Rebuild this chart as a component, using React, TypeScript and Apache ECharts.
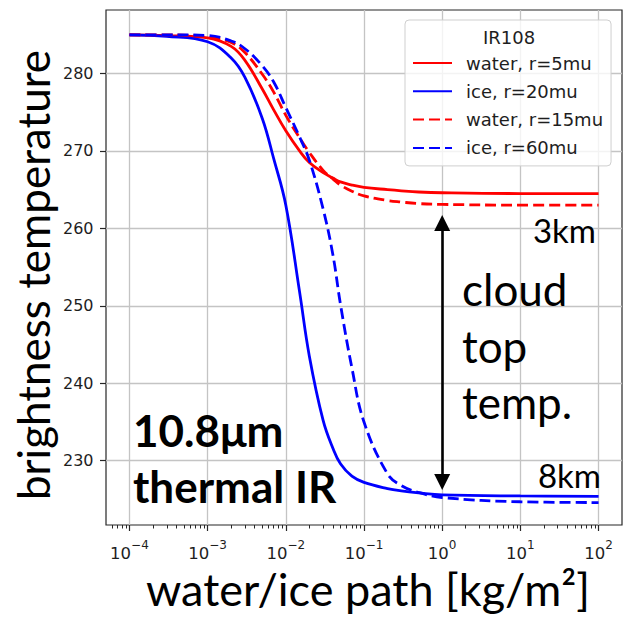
import React, { useEffect, useRef } from 'react';
import * as echarts from 'echarts';

// water / ice path [kg/m²] at which the brightness temperatures are sampled
const paths = [1e-4, 3e-4, 1e-3, 2e-3, 3e-3, 5e-3, 7e-3, 1e-2, 1.5e-2, 2e-2, 3e-2, 4e-2, 5e-2, 7e-2, 0.1, 0.2, 0.3, 0.5, 1, 10, 100];

// IR108 brightness temperature [K]
const water5 = [285.0, 284.9, 284.6, 283.5, 281.7, 278.0, 275.3, 272.6, 270.0, 268.5, 267.2, 266.5, 266.0, 265.6, 265.3, 265.0, 264.85, 264.7, 264.6, 264.5, 264.5];
const ice20 = [285.0, 284.8, 284.1, 282.0, 279.5, 274.2, 269.0, 263.0, 251.8, 243.5, 235.2, 231.6, 229.6, 228.0, 227.2, 226.4, 226.1, 225.85, 225.6, 225.45, 225.4];
const water15 = [285.0, 285.0, 284.7, 284.0, 282.7, 279.9, 277.6, 274.6, 271.7, 269.8, 267.5, 266.4, 265.6, 264.8, 264.2, 263.6, 263.4, 263.2, 263.1, 263.0, 263.0];
const ice60 = [285.0, 285.0, 284.9, 284.2, 283.2, 281.0, 278.9, 275.6, 271.8, 268.8, 262.5, 256.6, 250.2, 242.0, 235.0, 228.3, 226.8, 225.9, 225.25, 224.7, 224.6];

const seriesNames = ['water, r=5mu', 'ice, r=20mu', 'water, r=15mu', 'ice, r=60mu'];

// axis ticks
const xMajorTicks = [1e-4, 1e-3, 1e-2, 1e-1, 1, 10, 100];
const yTicks = [230, 240, 250, 260, 270, 280];

// cloud-top temperature arrow at 1 kg/m², between the 3 km and 8 km plateaus
const arrowPath = 1;
const arrowTop = 260.7;
const arrowBottom = 227.25;

const X_MIN = Math.pow(10, -4.3);
const X_MAX = Math.pow(10, 2.3);

// minor log ticks at 2..9 × 10^n inside the axis range
function minorTicks(): number[] {
  const out: number[] = [];
  for (let e = -5; e <= 2; e++) {
    for (let k = 2; k <= 9; k++) {
      const v = k * Math.pow(10, e);
      if (v > X_MIN && v < X_MAX) out.push(v);
    }
  }
  return out;
}

const TICK_FONT = 'DejaVu Sans';
const TITLE_FONT = 'Lato';
const INK = '#1e1e1e';
const LINE_W = 2.8;

export default function App() {
  const ref = useRef<HTMLDivElement>(null);

  useEffect(() => {
    if (!ref.current) return;
    const chart = echarts.init(ref.current, null, { renderer: 'svg' });

    const toPairs = (ys: number[]) => paths.map((p, i) => [p, ys[i]]);
    const lineSeries = (name: string, ys: number[], color: string, dashed: boolean) => ({
      name,
      type: 'line',
      data: toPairs(ys),
      symbol: 'none',
      smooth: 0.4,
      lineStyle: { color, width: LINE_W, type: dashed ? [11, 5] : 'solid' },
      itemStyle: { color },
      z: 3,
    });

    const s0: any = lineSeries(seriesNames[0], water5, '#ff0000', false);
    s0.markLine = {
      silent: true,
      symbol: ['triangle', 'triangle'],
      symbolSize: [16, 16],
      label: { show: false },
      lineStyle: { color: '#000000', width: 2.6, type: 'solid' },
      itemStyle: { color: '#000000' },
      emphasis: { disabled: true },
      data: [[{ coord: [arrowPath, arrowTop] }, { coord: [arrowPath, arrowBottom] }]],
    };

    const option: any = {
      animation: false,
      grid: {
        left: 106,
        top: 10,
        width: 516,
        height: 515,
        show: true,
        borderColor: '#262626',
        borderWidth: 1.2,
        backgroundColor: 'transparent',
      },
      xAxis: [
        {
          type: 'log',
          logBase: 10,
          min: X_MIN,
          max: X_MAX,
          axisLine: { show: false },
          axisTick: {
            show: true,
            length: 6,
            customValues: xMajorTicks,
            lineStyle: { color: '#262626', width: 1.2 },
          },
          axisLabel: {
            customValues: xMajorTicks,
            margin: 14,
            formatter: (v: number) => {
              const e = Math.round(Math.log10(v));
              const exp = e < 0 ? '\u2212' + -e : String(e);
              return '{b|10}{s|' + exp + '}';
            },
            rich: {
              b: { fontFamily: TICK_FONT, fontSize: 16.5, color: INK, lineHeight: 23, verticalAlign: 'bottom' },
              s: { fontFamily: TICK_FONT, fontSize: 12, color: INK, lineHeight: 11, verticalAlign: 'top' },
            },
          },
          splitLine: { show: true, lineStyle: { color: '#c4c4c4', width: 1.3 } },
        },
        {
          type: 'log',
          logBase: 10,
          min: X_MIN,
          max: X_MAX,
          position: 'bottom',
          axisLine: { show: false },
          axisLabel: { show: false },
          splitLine: { show: false },
          axisTick: {
            show: true,
            length: 3.5,
            customValues: minorTicks(),
            lineStyle: { color: '#262626', width: 1 },
          },
        },
      ],
      yAxis: {
        type: 'value',
        min: 221.7,
        max: 288.2,
        axisLine: { show: false },
        axisTick: {
          show: true,
          length: 6,
          customValues: yTicks,
          lineStyle: { color: '#262626', width: 1.2 },
        },
        axisLabel: {
          customValues: yTicks,
          margin: 12.5,
          fontFamily: TICK_FONT,
          fontSize: 16,
          color: INK,
        },
        splitLine: { show: true, lineStyle: { color: '#c4c4c4', width: 1.3 } },
      },
      legend: {
        data: seriesNames,
        orient: 'vertical',
        left: 405,
        top: 20,
        padding: [34, 8, 9, 7],
        itemGap: 10.3,
        itemWidth: 39,
        itemHeight: 14,
        backgroundColor: 'rgba(255,255,255,0.8)',
        borderColor: '#cfcfcf',
        borderWidth: 1,
        borderRadius: 4,
        selectedMode: false,
        itemStyle: { color: 'rgba(0,0,0,0)', borderWidth: 0, opacity: 0 },
        textStyle: {
          fontFamily: TICK_FONT,
          fontSize: 18,
          lineHeight: 18,
          color: INK,
          padding: [0, 0, 0, 9],
        },
      },
      series: [
        s0,
        lineSeries(seriesNames[1], ice20, '#0000ff', false),
        lineSeries(seriesNames[2], water15, '#ff0000', true),
        lineSeries(seriesNames[3], ice60, '#0000ff', true),
      ],
      graphic: [
        {
          type: 'text',
          z: 100,
          x: 509,
          y: 37,
          style: { text: 'IR108', font: `18px "${TICK_FONT}"`, fill: INK, align: 'center', verticalAlign: 'middle' },
        },
        {
          type: 'text',
          x: 33,
          y: 275,
          rotation: Math.PI / 2,
          style: { text: 'brightness temperature', font: `44px "${TITLE_FONT}"`, fill: '#000', align: 'center', verticalAlign: 'middle' },
        },
        {
          type: 'text',
          x: 368,
          y: 589,
          style: { text: 'water/ice path [kg/m\u00b2]', font: `45px "${TITLE_FONT}"`, fill: '#000', align: 'center', verticalAlign: 'middle' },
        },
        {
          type: 'text',
          z: 50,
          x: 133,
          y: 430,
          style: { text: '10.8\u03bcm', font: `bold 44px "${TITLE_FONT}"`, fill: '#000', align: 'left', verticalAlign: 'middle' },
        },
        {
          type: 'text',
          z: 50,
          x: 133,
          y: 486,
          style: { text: 'thermal IR', font: `bold 44px "${TITLE_FONT}"`, fill: '#000', align: 'left', verticalAlign: 'middle' },
        },
        {
          type: 'text',
          z: 50,
          x: 462,
          y: 289,
          style: { text: 'cloud', font: `44px "${TITLE_FONT}"`, fill: '#000', align: 'left', verticalAlign: 'middle' },
        },
        {
          type: 'text',
          z: 50,
          x: 462,
          y: 346,
          style: { text: 'top', font: `44px "${TITLE_FONT}"`, fill: '#000', align: 'left', verticalAlign: 'middle' },
        },
        {
          type: 'text',
          z: 50,
          x: 462,
          y: 402,
          style: { text: 'temp.', font: `44px "${TITLE_FONT}"`, fill: '#000', align: 'left', verticalAlign: 'middle' },
        },
        {
          type: 'text',
          z: 50,
          x: 596,
          y: 230,
          style: { text: '3km', font: `33px "${TITLE_FONT}"`, fill: '#000', align: 'right', verticalAlign: 'middle' },
        },
        {
          type: 'text',
          z: 50,
          x: 601,
          y: 475,
          style: { text: '8km', font: `33px "${TITLE_FONT}"`, fill: '#000', align: 'right', verticalAlign: 'middle' },
        },
      ],
    };

    chart.setOption(option);
    return () => chart.dispose();
  }, []);

  return (
    <div
      ref={ref}
      style={{ position: 'fixed', left: 0, top: 0, width: 625, height: 620, background: '#ffffff' }}
    />
  );
}
